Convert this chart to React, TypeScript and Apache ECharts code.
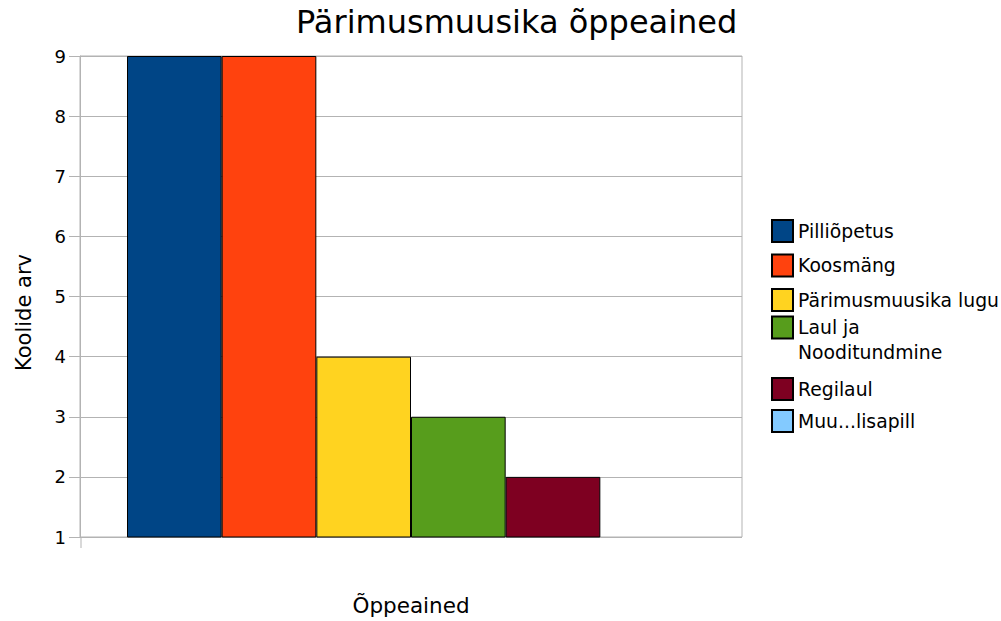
import React, { useEffect, useRef } from "react";
import * as echarts from "echarts";

const title = "Pärimusmuusika õppeained";
const xAxisName = "Õppeained";
const yAxisName = "Koolide arv";
const categories = [""];
const seriesNames = [
  "Pilliõpetus",
  "Koosmäng",
  "Pärimusmuusika lugu",
  "Laul ja\nNooditundmine",
  "Regilaul",
  "Muu...lisapill",
];
const seriesValues = [9, 9, 4, 3, 2, 1];
const seriesColors = ["#004586", "#ff420e", "#ffd320", "#579d1c", "#7e0021", "#83caff"];
const yMin = 1;
const yMax = 9;
const yInterval = 1;

const FONT = "DejaVu Sans";
const GRID_COLOR = "#b3b3b3";

export default function App() {
  const ref = useRef<HTMLDivElement>(null);

  useEffect(() => {
    if (!ref.current) return;
    const chart = echarts.init(ref.current, null, { renderer: "svg" });

    const series = seriesNames.map((name, i) => ({
      name,
      type: "bar",
      data: [seriesValues[i]],
      barGap: "0%",
      barCategoryGap: "14.2%",
      itemStyle: { color: seriesColors[i], borderColor: "#000", borderWidth: 1 },
    }));

    const legendText = { fontFamily: FONT, fontSize: 18.8, color: "#000" };
    const legendBase = {
      orient: "vertical",
      left: 771,
      padding: 0,
      itemWidth: 21,
      itemHeight: 22,
      icon: "rect",
      textStyle: legendText,
      selectedMode: false,
    };

    chart.setOption({
      animation: false,
      title: {
        text: title,
        left: 296,
        top: 6,
        padding: 0,
        textStyle: { fontFamily: FONT, fontSize: 32, fontWeight: "normal", color: "#000" },
      },
      grid: {
        left: 80,
        right: 259,
        top: 56,
        bottom: 84,
        show: true,
        borderColor: GRID_COLOR,
        borderWidth: 1,
        backgroundColor: "#fff",
      },
      legend: [
        { ...legendBase, data: seriesNames.slice(0, 3), top: 219, itemGap: 10.5 },
        {
          ...legendBase,
          data: seriesNames.slice(3, 4),
          top: 290,
          itemGap: 0,
          textStyle: { ...legendText, lineHeight: 25 },
          formatter: (name: string) => "\n" + name,
        },
        { ...legendBase, data: seriesNames.slice(4), top: 377, itemGap: 8 },
      ],
      xAxis: {
        type: "category",
        data: categories,
        name: xAxisName,
        nameLocation: "middle",
        nameGap: 57,
        nameTextStyle: { fontFamily: FONT, fontSize: 21.5, color: "#000" },
        axisLine: { show: false },
        axisTick: { show: false },
        axisLabel: { show: false },
      },
      yAxis: {
        type: "value",
        min: yMin,
        max: yMax,
        interval: yInterval,
        name: yAxisName,
        nameLocation: "middle",
        nameRotate: 90,
        nameGap: 46,
        nameTextStyle: { fontFamily: FONT, fontSize: 21, color: "#000", padding: [0, 32, 0, 0] },
        axisLine: { show: true, lineStyle: { color: GRID_COLOR, width: 1 } },
        axisTick: { show: true, length: 11, lineStyle: { color: GRID_COLOR } },
        axisLabel: { fontFamily: FONT, fontSize: 18, color: "#000", margin: 14 },
        splitLine: { show: true, lineStyle: { color: GRID_COLOR, width: 1 } },
      },
      graphic: [
        {
          type: "line",
          shape: { x1: 81, y1: 537, x2: 81, y2: 548 },
          style: { stroke: GRID_COLOR, lineWidth: 1 },
          silent: true,
        },
      ],
      series,
    });

    return () => chart.dispose();
  }, []);

  return <div ref={ref} style={{ width: 1001, height: 621, position: "absolute", left: 0, top: 0 }} />;
}
